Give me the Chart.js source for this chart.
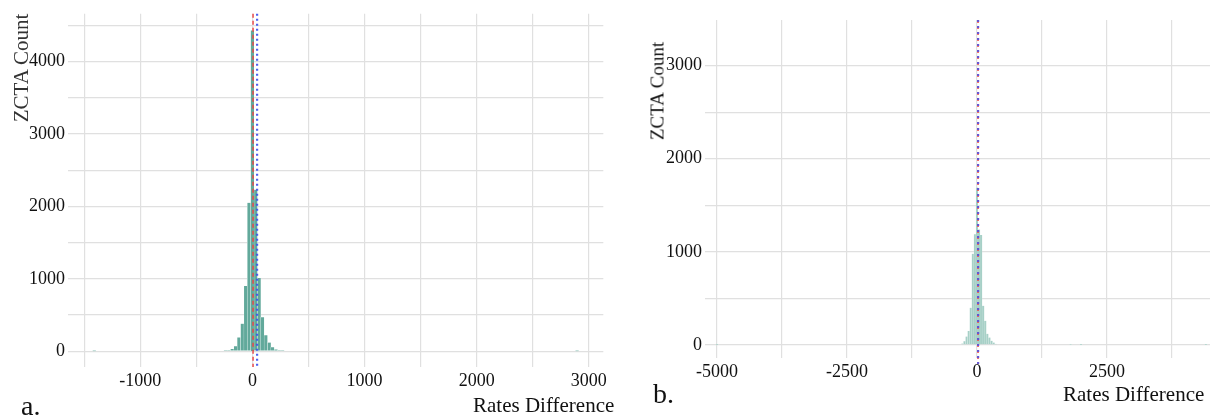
<!DOCTYPE html>
<html>
<head>
<meta charset="utf-8">
<script src="https://cdn.jsdelivr.net/npm/chart.js@4.4.1/dist/chart.umd.min.js"></script>
<style>
  html, body { margin: 0; padding: 0; background: #fff; }
  #wrap { position: relative; width: 1210px; height: 418px; overflow: hidden; font-family: "Liberation Serif", "DejaVu Serif", serif; color: #111; }
  canvas { position: absolute; top: 0; }
  #chartA { left: 0; }
  #chartB { left: 610px; }
  .lbl { position: absolute; white-space: nowrap; line-height: 1; }
  .ytitle { transform: translate(-50%, -50%) rotate(-90deg); }
</style>
</head>
<body>
<div id="wrap">
  <canvas id="chartA" width="610" height="418"></canvas>
  <canvas id="chartB" width="600" height="418"></canvas>

  <div class="lbl ytitle" style="left:21px; top:68px; font-size:21px; color:#333;">ZCTA Count</div>
  <div class="lbl ytitle" style="left:657px; top:91px; font-size:19px;">ZCTA Count</div>
  <div class="lbl" style="left:473px; top:395px; font-size:21px;">Rates Difference</div>
  <div class="lbl" style="left:1063px; top:384px; font-size:21px;">Rates Difference</div>
  <div class="lbl" style="left:21px; top:392px; font-size:28px;">a.</div>
  <div class="lbl" style="left:653px; top:380px; font-size:28px;">b.</div>
</div>

<script>
// ---------- Data ----------
// panel a: bin centres and counts
const binsA   = [-1410, -240, -210, -180, -150, -120, -90, -60, -30,    0,   30,   60,  90, 120, 150, 180, 210, 240, 270, 2895];
const countsA = [    1,    5,   12,   30,   70,  190, 380, 900, 2049, 4430, 2230, 1010, 470, 220, 120,  55,  25,  12,   5,    1];

// panel b: bin centres and counts
const binsB   = [-5000, -280, -240, -200, -160, -120, -80,  -40,    0,   40,   80, 120, 160, 200, 240, 280, 320, 360, 1800, 2000, 4400];
const countsB = [    2,   15,   40,   90,  150,  400, 980, 1190, 1690, 1240, 1180, 420, 260, 120,  80,  45,  25,  10,    3,    2,    2];

// reference lines (median dashed red, mean dotted blue)
const linesA = [
  { value: 6,  color: "rgba(235,70,70,0.9)",  dash: [4, 3], width: 1.6 },
  { value: 42, color: "rgba(60,80,240,0.9)",  dash: [2, 3], width: 2.2 }
];
const linesB = [
  { value: 20, color: "rgba(235,70,70,0.85)", dash: [3, 3], width: 1.8 },
  { value: 22, color: "rgba(70,80,235,0.8)",  dash: [2, 4], width: 2.2 }
];

// axis ranges, grid positions and labelled ticks
const xRangeA = [-1644, 3129], yRangeA = [-218, 4658];
const xRangeB = [-5230, 4481], yRangeB = [-140, 3490];
const xGridA  = [-1500, -1000, -500, 0, 500, 1000, 1500, 2000, 2500, 3000];
const xLabelA = [-1000, 0, 1000, 2000, 3000];
const yGridA  = [0, 500, 1000, 1500, 2000, 2500, 3000, 3500, 4000, 4500];
const xGridB  = [-5000, -3750, -2500, -1250, 0, 1250, 2500, 3750];
const xLabelB = [-5000, -2500, 0, 2500];
const yGridB  = [0, 500, 1000, 1500, 2000, 2500, 3000];
const yLabels = [0, 1000, 2000, 3000, 4000];

// ---------- Helpers ----------
const GRID = "#e0e0e0";
const FONT = { family: "Liberation Serif", size: 18 };

const refLines = {
  id: "refLines",
  afterDatasetsDraw(chart, args, opts) {
    const { ctx, chartArea, scales: { x } } = chart;
    (opts.lines || []).forEach(l => {
      const px = x.getPixelForValue(l.value);
      ctx.save();
      ctx.strokeStyle = l.color;
      ctx.lineWidth = l.width;
      ctx.setLineDash(l.dash);
      ctx.beginPath();
      ctx.moveTo(px, chartArea.top);
      ctx.lineTo(px, chartArea.bottom + (opts.extend || 0));
      ctx.stroke();
      ctx.restore();
    });
  }
};

function axis(range, grid, labels, fit) {
  return {
    type: "linear",
    min: range[0], max: range[1],
    offset: false,
    border: { display: false },
    grid: { color: GRID, lineWidth: 1.2, drawTicks: false, offset: false },
    afterBuildTicks: s => { s.ticks = grid.map(v => ({ value: v })); },
    afterFit: fit,
    ticks: {
      autoSkip: false, maxRotation: 0, minRotation: 0,
      padding: 3, color: "#111", font: FONT,
      callback: v => (labels.includes(v) ? String(v) : "")
    }
  };
}

function histChart(canvasId, cfg) {
  return new Chart(document.getElementById(canvasId), {
    type: "bar",
    data: {
      datasets: [{
        data: cfg.bins.map((b, i) => ({ x: b, y: cfg.counts[i] })),
        backgroundColor: cfg.fill,
        borderColor: cfg.edge,
        borderWidth: cfg.edgeWidth,
        barPercentage: 1,
        categoryPercentage: 1
      }]
    },
    options: {
      responsive: false,
      animation: false,
      layout: { padding: cfg.padding },
      plugins: {
        legend: { display: false },
        tooltip: { enabled: false },
        refLines: { lines: cfg.lines, extend: cfg.lineExtend }
      },
      scales: {
        x: axis(cfg.xRange, cfg.xGrid, cfg.xLabels, s => { s.height = cfg.xAxisHeight; }),
        y: axis(cfg.yRange, cfg.yGrid, yLabels, s => { s.width = cfg.yAxisWidth; })
      }
    },
    plugins: [refLines]
  });
}

// ---------- Panels ----------
histChart("chartA", {
  bins: binsA, counts: countsA, lines: linesA, lineExtend: 0,
  fill: "#62a99b", edge: "rgba(255,255,255,0.8)", edgeWidth: 0.4,
  xRange: xRangeA, yRange: yRangeA, xGrid: xGridA, xLabels: xLabelA, yGrid: yGridA,
  padding: { top: 10, right: 5, bottom: 0, left: 0 },
  yAxisWidth: 68, xAxisHeight: 51
});

histChart("chartB", {
  bins: binsB, counts: countsB, lines: linesB, lineExtend: 6,
  fill: "#a7d0c7", edge: "rgba(255,255,255,0.5)", edgeWidth: 0.3,
  xRange: xRangeB, yRange: yRangeB, xGrid: xGridB, xLabels: xLabelB, yGrid: yGridB,
  padding: { top: 20, right: 0, bottom: 0, left: 0 },
  yAxisWidth: 95, xAxisHeight: 60
});
</script>
</body>
</html>
